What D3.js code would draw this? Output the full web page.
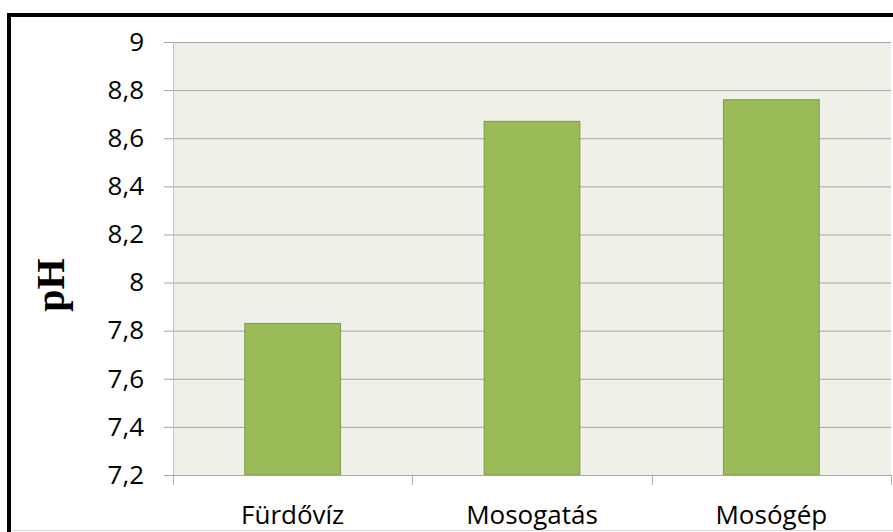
<!DOCTYPE html>
<html>
<head>
<meta charset="utf-8">
<script src="https://cdn.jsdelivr.net/npm/d3@7"></script>
<style>
  body { margin: 0; background: #fff; }
  svg { display: block; }
</style>
</head>
<body>
<svg id="chart" width="893" height="532"></svg>
<script>
// chart data
var categories = ['Fürdővíz', 'Mosogatás', 'Mosógép'];
var phValues = [7.83, 8.67, 8.76];
var yTicks = [7.2, 7.4, 7.6, 7.8, 8, 8.2, 8.4, 8.6, 8.8, 9];
var yLabel = 'pH';

var svg = d3.select('#chart');

var plot = { left: 173, right: 891, top: 42, bottom: 475 };

var x = d3.scaleBand()
  .domain(categories)
  .range([plot.left, plot.right])
  .paddingInner(0.6)
  .paddingOuter(0.3);

var y = d3.scaleLinear()
  .domain([7.2, 9])
  .range([plot.bottom, plot.top]);

var fmt = function (d) { return String(d).replace('.', ','); };

// outer frame (cropped at right / bottom)
svg.append('line')
  .attr('x1', 7).attr('x2', 893).attr('y1', 15).attr('y2', 15)
  .attr('stroke', '#000').attr('stroke-width', 4);
svg.append('line')
  .attr('x1', 9).attr('x2', 9).attr('y1', 13).attr('y2', 532)
  .attr('stroke', '#000').attr('stroke-width', 4);
svg.append('line')
  .attr('x1', 11).attr('x2', 893).attr('y1', 530.5).attr('y2', 530.5)
  .attr('stroke', '#dcdcdc').attr('stroke-width', 1);

// plot background
svg.append('rect')
  .attr('x', plot.left).attr('y', plot.top)
  .attr('width', plot.right - plot.left)
  .attr('height', plot.bottom - plot.top)
  .attr('fill', '#eff1e9');

// horizontal gridlines + y axis
var yAxis = d3.axisLeft(y)
  .tickValues(yTicks)
  .tickSize(-(plot.right - plot.left))
  .tickFormat(fmt)
  .tickPadding(29);

var gy = svg.append('g')
  .attr('transform', 'translate(' + plot.left + ',0)')
  .call(yAxis);
gy.select('.domain').remove();
gy.selectAll('.tick line')
  .attr('x1', -9)
  .attr('stroke', '#a6a6a6');
gy.selectAll('.tick text')
  .attr('font-family', 'Open Sans')
  .attr('font-size', 26)
  .attr('fill', '#000');

// left axis line
svg.append('line')
  .attr('x1', plot.left + 0.5).attr('x2', plot.left + 0.5)
  .attr('y1', plot.top).attr('y2', plot.bottom + 10)
  .attr('stroke', '#c0c0c0');

// bars
svg.append('g')
  .selectAll('rect')
  .data(phValues)
  .join('rect')
  .attr('x', function (d, i) { return x(categories[i]); })
  .attr('y', function (d) { return y(d); })
  .attr('width', x.bandwidth())
  .attr('height', function (d) { return y(7.2) - y(d); })
  .attr('fill', '#9bbb59')
  .attr('stroke', '#7d9a48')
  .attr('stroke-width', 1);

// x axis: ticks at category boundaries
var step = x.step();
var bounds = categories.map(function (c, i) { return plot.left + i * step; });
bounds.push(plot.right);
svg.append('g')
  .selectAll('line')
  .data(bounds)
  .join('line')
  .attr('x1', function (d) { return Math.round(d) + 0.5; })
  .attr('x2', function (d) { return Math.round(d) + 0.5; })
  .attr('y1', plot.bottom)
  .attr('y2', plot.bottom + 10)
  .attr('stroke', '#b0b0b0');
svg.append('line')
  .attr('x1', plot.left).attr('x2', plot.right)
  .attr('y1', plot.bottom + 0.5).attr('y2', plot.bottom + 0.5)
  .attr('stroke', '#a6a6a6');

// category labels
svg.append('g')
  .selectAll('text')
  .data(categories)
  .join('text')
  .attr('x', function (d) { return x(d) + x.bandwidth() / 2; })
  .attr('y', 524)
  .attr('text-anchor', 'middle')
  .attr('font-family', 'Open Sans')
  .attr('font-size', 26)
  .attr('fill', '#000')
  .text(function (d) { return d; });

// y axis title
svg.append('text')
  .attr('transform', 'translate(64,285) rotate(-90)')
  .attr('text-anchor', 'middle')
  .attr('font-family', 'Liberation Serif')
  .attr('font-weight', 'bold')
  .attr('font-size', 40)
  .attr('fill', '#000')
  .text(yLabel);
</script>
</body>
</html>
